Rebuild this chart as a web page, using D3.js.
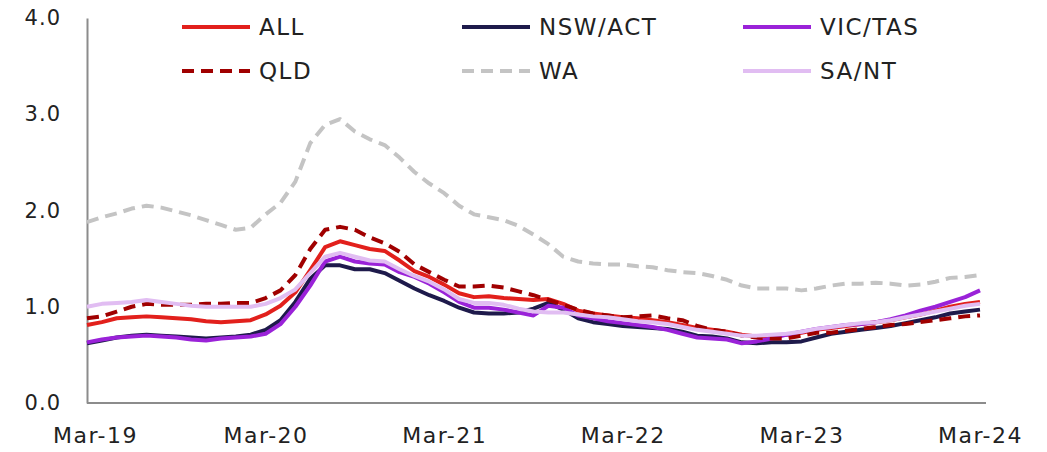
<!DOCTYPE html>
<html>
<head>
<meta charset="utf-8">
<script src="https://cdn.jsdelivr.net/npm/d3@7"></script>
<style>
  body { margin: 0; background: #fff; }
  svg { display: block; }
</style>
</head>
<body>
<div id="drawing_region"></div>
<script>
// monthly, Mar-19 .. Mar-24
const months = d3.range(61).map(i => d3.timeFormat("%b-%y")(new Date(2019, 2 + i, 1)));
const tickLabels = ["Mar-19", "Mar-20", "Mar-21", "Mar-22", "Mar-23", "Mar-24"];
const yTicks = [0, 1, 2, 3, 4];

const ALL = [0.81,0.84,0.88,0.89,0.90,0.89,0.88,0.87,0.85,0.84,0.85,0.86,
  0.92,1.01,1.15,1.38,1.62,1.68,1.64,1.60,1.58,1.48,1.37,1.31,
  1.23,1.14,1.10,1.11,1.09,1.08,1.07,1.08,1.03,0.96,0.93,0.91,
  0.89,0.88,0.86,0.84,0.81,0.78,0.76,0.74,0.71,0.69,0.70,0.71,
  0.73,0.76,0.78,0.80,0.82,0.84,0.86,0.89,0.92,0.96,1.00,1.03,1.05];
const NSW = [0.62,0.65,0.68,0.70,0.71,0.70,0.69,0.68,0.67,0.68,0.69,0.71,
  0.76,0.86,1.05,1.29,1.43,1.43,1.39,1.39,1.35,1.27,1.19,1.12,
  1.06,0.99,0.94,0.93,0.93,0.94,0.98,1.04,0.97,0.88,0.84,0.82,
  0.80,0.79,0.78,0.77,0.74,0.70,0.69,0.67,0.63,0.62,0.63,0.63,
  0.64,0.68,0.72,0.74,0.76,0.78,0.80,0.83,0.86,0.89,0.93,0.95,0.97];
const VIC = [0.63,0.66,0.68,0.69,0.70,0.69,0.68,0.66,0.65,0.67,0.68,0.69,
  0.72,0.82,1.00,1.22,1.47,1.52,1.47,1.45,1.44,1.36,1.31,1.24,
  1.15,1.05,0.99,0.99,0.97,0.94,0.91,1.01,0.99,0.91,0.88,0.85,
  0.83,0.81,0.79,0.76,0.72,0.68,0.67,0.66,0.62,0.64,0.67,0.71,
  0.74,0.77,0.79,0.81,0.82,0.84,0.87,0.91,0.96,1.00,1.05,1.10,1.17];
const QLD = [0.88,0.90,0.95,1.00,1.03,1.02,1.02,1.02,1.03,1.03,1.04,1.04,
  1.09,1.17,1.33,1.60,1.80,1.83,1.80,1.72,1.66,1.57,1.44,1.36,
  1.28,1.21,1.21,1.22,1.20,1.16,1.12,1.07,1.02,0.97,0.93,0.91,
  0.89,0.90,0.91,0.88,0.86,0.80,0.76,0.74,0.70,0.68,0.67,0.67,
  0.70,0.73,0.73,0.75,0.77,0.79,0.81,0.82,0.84,0.86,0.88,0.90,0.91];
const WA = [1.88,1.93,1.97,2.02,2.05,2.03,1.99,1.95,1.90,1.85,1.80,1.82,
  1.96,2.08,2.30,2.70,2.89,2.95,2.82,2.74,2.68,2.55,2.40,2.28,
  2.18,2.05,1.96,1.93,1.90,1.84,1.75,1.65,1.52,1.47,1.45,1.44,
  1.44,1.42,1.41,1.38,1.36,1.35,1.32,1.28,1.22,1.19,1.19,1.19,
  1.17,1.19,1.22,1.24,1.24,1.25,1.24,1.22,1.23,1.26,1.30,1.31,1.33];
const SANT = [1.00,1.03,1.04,1.05,1.07,1.05,1.03,1.01,1.00,1.00,1.00,1.00,
  1.03,1.09,1.18,1.35,1.52,1.56,1.52,1.48,1.47,1.39,1.32,1.26,
  1.18,1.08,1.04,1.04,1.02,0.98,0.95,0.94,0.94,0.92,0.90,0.89,
  0.87,0.85,0.84,0.82,0.79,0.76,0.74,0.72,0.70,0.70,0.71,0.72,
  0.74,0.77,0.79,0.81,0.83,0.84,0.86,0.89,0.92,0.95,0.98,1.01,1.03];

const seriesNames = ["ALL", "NSW/ACT", "VIC/TAS", "QLD", "WA", "SA/NT"];
const seriesValues = [ALL, NSW, VIC, QLD, WA, SANT];
const seriesColors = ["#e2201c", "#1e1a4b", "#9a22d8", "#a00000", "#c4c4c4", "#e1bdf2"];
const seriesDash = [null, null, null, "12,7", "12,7", null];

const FONT = "'DejaVu Sans', sans-serif";
const width = 1047, height = 452;
const margin = { top: 18, right: 67, bottom: 49, left: 87 };

const svg = d3.select('#drawing_region')
  .append('svg')
  .attr('width', width)
  .attr('height', height)
  .style('font-family', FONT);

const x = d3.scalePoint()
  .domain(months)
  .range([margin.left, width - margin.right]);
const y = d3.scaleLinear()
  .domain([0, 4])
  .range([height - margin.bottom, margin.top]);

// y axis
const yAxis = svg.append('g')
  .attr('transform', `translate(${margin.left},0)`)
  .call(d3.axisLeft(y).tickValues(yTicks).tickFormat(d3.format('.1f')).tickSize(0).tickPadding(26));
yAxis.attr('font-family', null).attr('font-size', null);
yAxis.select('.domain').attr('stroke', '#8c8c8c').attr('stroke-width', 2);
yAxis.selectAll('text')
  .style('font-family', FONT).style('font-size', '21px').style('letter-spacing', '1px')
  .attr('fill', '#222');

// x axis
const xAxis = svg.append('g')
  .attr('transform', `translate(0,${height - margin.bottom})`)
  .call(d3.axisBottom(x).tickValues(tickLabels).tickSize(0).tickPadding(24));
xAxis.attr('font-family', null).attr('font-size', null);
xAxis.select('.domain').attr('stroke', '#8c8c8c').attr('stroke-width', 2)
  .attr('d', `M${margin.left},0H${width - margin.right + 6}`);
xAxis.selectAll('text')
  .style('font-family', FONT).style('font-size', '22px').style('letter-spacing', '1.5px')
  .attr('fill', '#222')
  .attr('dx', (d, i) => i === 0 ? 8 : 0);

// lines
const line = d3.line()
  .x((d, i) => x(months[i]))
  .y(d => y(d));

svg.append('g')
  .selectAll('path')
  .data(seriesValues)
  .join('path')
  .attr('d', line)
  .attr('fill', 'none')
  .attr('stroke', (d, i) => seriesColors[i])
  .attr('stroke-width', 4)
  .attr('stroke-linejoin', 'round')
  .attr('stroke-dasharray', (d, i) => seriesDash[i]);

// legend: 3 columns x 2 rows
const legendCols = [182, 462, 743];
const legendRows = [27, 71];
const legendOrder = [0, 1, 2, 3, 4, 5];
const legend = svg.append('g')
  .selectAll('g')
  .data(legendOrder)
  .join('g')
  .attr('transform', (d, k) => `translate(${legendCols[k % 3]},${legendRows[Math.floor(k / 3)]})`);
legend.append('line')
  .attr('x1', 0).attr('x2', 68)
  .attr('stroke', d => seriesColors[d])
  .attr('stroke-width', 4)
  .attr('stroke-dasharray', d => seriesDash[d]);
legend.append('text')
  .attr('x', 77)
  .attr('dy', '0.35em')
  .style('font-family', FONT)
  .style('font-size', '23px')
  .style('letter-spacing', '1.5px')
  .attr('fill', '#222')
  .text(d => seriesNames[d]);
</script>
</body>
</html>
